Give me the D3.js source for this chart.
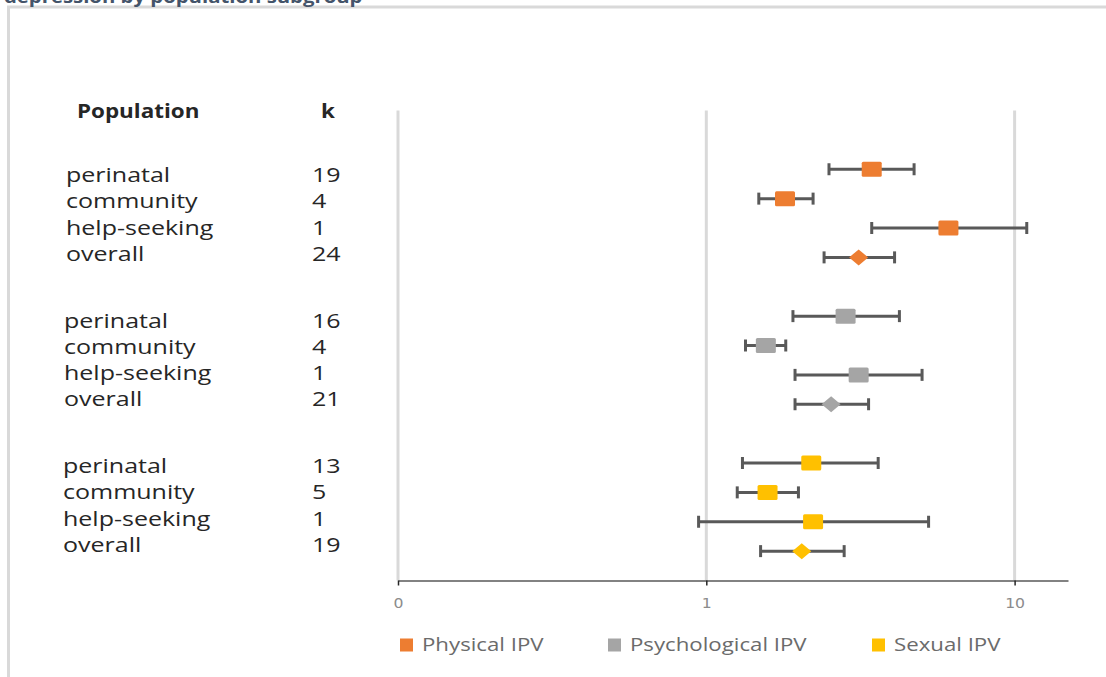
<!DOCTYPE html>
<html>
<head>
<meta charset="utf-8">
<script src="https://cdn.jsdelivr.net/npm/d3@7"></script>
<style>
  html, body { margin: 0; padding: 0; background: #ffffff; }
  svg { display: block; }
</style>
</head>
<body>
<svg id="chart" width="1106" height="677"></svg>
<script>
// ---------------- data ----------------
const titleText = "depression by population subgroup";
const seriesNames = ["Physical IPV", "Psychological IPV", "Sexual IPV"];
const seriesColors = ["#ED7D31", "#A5A5A5", "#FFC000"];
const populations = ["perinatal", "community", "help-seeking", "overall"];

const kPhysical = [19, 4, 1, 24];
const kPsychological = [16, 4, 1, 21];
const kSexual = [13, 5, 1, 19];

const estPhysical = [3.44, 1.80, 6.10, 3.12];
const lowPhysical = [2.50, 1.48, 3.44, 2.41];
const highPhysical = [4.72, 2.22, 10.95, 4.08];

const estPsychological = [2.83, 1.56, 3.12, 2.54];
const lowPsychological = [1.91, 1.34, 1.94, 1.94];
const highPsychological = [4.23, 1.81, 5.01, 3.36];

const estSexual = [2.19, 1.58, 2.22, 2.04];
const lowSexual = [1.31, 1.26, 0.944, 1.50];
const highSexual = [3.61, 1.99, 5.26, 2.80];

const xTickValues = [0.1, 1, 10];
const xTickLabels = ["0", "1", "10"];

// ---------------- build ----------------
const ks = [kPhysical, kPsychological, kSexual];
const ests = [estPhysical, estPsychological, estSexual];
const lows = [lowPhysical, lowPsychological, lowSexual];
const highs = [highPhysical, highPsychological, highSexual];

const rows = [];
seriesNames.forEach((s, gi) => {
  populations.forEach((p, ri) => {
    rows.push({
      series: s, gi, ri, pop: p, k: ks[gi][ri],
      est: ests[gi][ri], low: lows[gi][ri], high: highs[gi][ri],
      slot: 14 - gi * 5 - ri,
      overall: p === "overall"
    });
  });
});

const svg = d3.select("#chart");
const font = "'Open Sans', sans-serif";

// frame
svg.append("rect")
  .attr("x", 8.5).attr("y", 7).attr("width", 1200).attr("height", 800)
  .attr("fill", "#fff").attr("stroke", "#d9d9d9").attr("stroke-width", 3);

// clipped title
svg.append("text")
  .attr("transform", "translate(4,2.5) scale(1.13,1)")
  .attr("font-family", font).attr("font-weight", 700).attr("font-size", 18)
  .attr("fill", "#44546A")
  .text(titleText);

const x = d3.scaleLog().domain([0.1, 14.9]).range([398, 1068]);
const y = d3.scaleLinear().domain([0, 16]).range([580.5, 110.5]);

// gridlines
svg.append("g").selectAll("line")
  .data(xTickValues)
  .join("line")
  .attr("x1", d => x(d)).attr("x2", d => x(d))
  .attr("y1", y(16)).attr("y2", y(0))
  .attr("stroke", "#d9d9d9").attr("stroke-width", 3);

// x axis
const xAxis = d3.axisBottom(x)
  .tickValues(xTickValues)
  .tickFormat((d, i) => xTickLabels[i])
  .tickSizeInner(5).tickSizeOuter(0).tickPadding(10);
const gx = svg.append("g").attr("transform", `translate(0,${y(0)})`).call(xAxis);
gx.select(".domain").attr("stroke", "#595959").attr("stroke-width", 1.5);
gx.selectAll(".tick line").attr("stroke", "#262626").attr("stroke-width", 1.5);
gx.selectAll(".tick text").attr("fill", "#8c8c8c")
  .attr("font-family", "'DejaVu Sans', sans-serif").attr("font-size", 14)
  .attr("y", 0).attr("dy", 0)
  .attr("transform", "translate(0,27) scale(1.12,1)");

// error bars
const eb = svg.append("g").selectAll("g").data(rows).join("g");
eb.append("line")
  .attr("x1", d => x(d.low)).attr("x2", d => x(d.high))
  .attr("y1", d => y(d.slot)).attr("y2", d => y(d.slot))
  .attr("stroke", "#595959").attr("stroke-width", 3);
eb.append("line")
  .attr("x1", d => x(d.low)).attr("x2", d => x(d.low))
  .attr("y1", d => y(d.slot) - 6).attr("y2", d => y(d.slot) + 6)
  .attr("stroke", "#595959").attr("stroke-width", 3);
eb.append("line")
  .attr("x1", d => x(d.high)).attr("x2", d => x(d.high))
  .attr("y1", d => y(d.slot) - 6).attr("y2", d => y(d.slot) + 6)
  .attr("stroke", "#595959").attr("stroke-width", 3);

// markers
const mk = svg.append("g");
mk.selectAll("rect").data(rows.filter(d => !d.overall)).join("rect")
  .attr("x", d => x(d.est) - 10).attr("y", d => y(d.slot) - 7.5)
  .attr("width", 20).attr("height", 15).attr("rx", 1.5)
  .attr("fill", d => seriesColors[d.gi]);
mk.selectAll("path").data(rows.filter(d => d.overall)).join("path")
  .attr("d", d => {
    const cx = x(d.est), cy = y(d.slot);
    return `M${cx - 9.5},${cy} L${cx},${cy - 8} L${cx + 9.5},${cy} L${cx},${cy + 8} Z`;
  })
  .attr("fill", d => seriesColors[d.gi]);

// left table
const tbl = svg.append("g").attr("font-family", font).attr("fill", "#262626");
tbl.append("text").attr("transform", "translate(77,118) scale(1.18,1)")
  .attr("font-weight", 700).attr("font-size", 19).text("Population");
tbl.append("text").attr("transform", "translate(321,118) scale(1.18,1)")
  .attr("font-weight", 700).attr("font-size", 19).text("k");

const labelX = [66, 64, 63];
const rowY = d => 182 + d.gi * 145.5 + d.ri * 26.3;
tbl.selectAll("text.pop").data(rows).join("text").attr("class", "pop")
  .attr("transform", d => `translate(${labelX[d.gi]},${rowY(d)}) scale(1.25,1)`)
  .attr("font-size", 20)
  .text(d => d.pop);
tbl.selectAll("text.k").data(rows).join("text").attr("class", "k")
  .attr("transform", d => `translate(312,${rowY(d)}) scale(1.25,1)`)
  .attr("font-size", 20)
  .text(d => d.k);

// legend
const legX = [400, 608, 872];
const lg = svg.append("g").selectAll("g").data(seriesNames).join("g")
  .attr("transform", (d, i) => `translate(${legX[i]},645)`);
lg.append("rect").attr("x", 0).attr("y", -6.5).attr("width", 13).attr("height", 13)
  .attr("fill", (d, i) => seriesColors[i]);
lg.append("text").attr("transform", "translate(22,6) scale(1.27,1)")
  .attr("font-family", font).attr("font-size", 17.5).attr("fill", "#6b6b6b")
  .text(d => d);
</script>
</body>
</html>
